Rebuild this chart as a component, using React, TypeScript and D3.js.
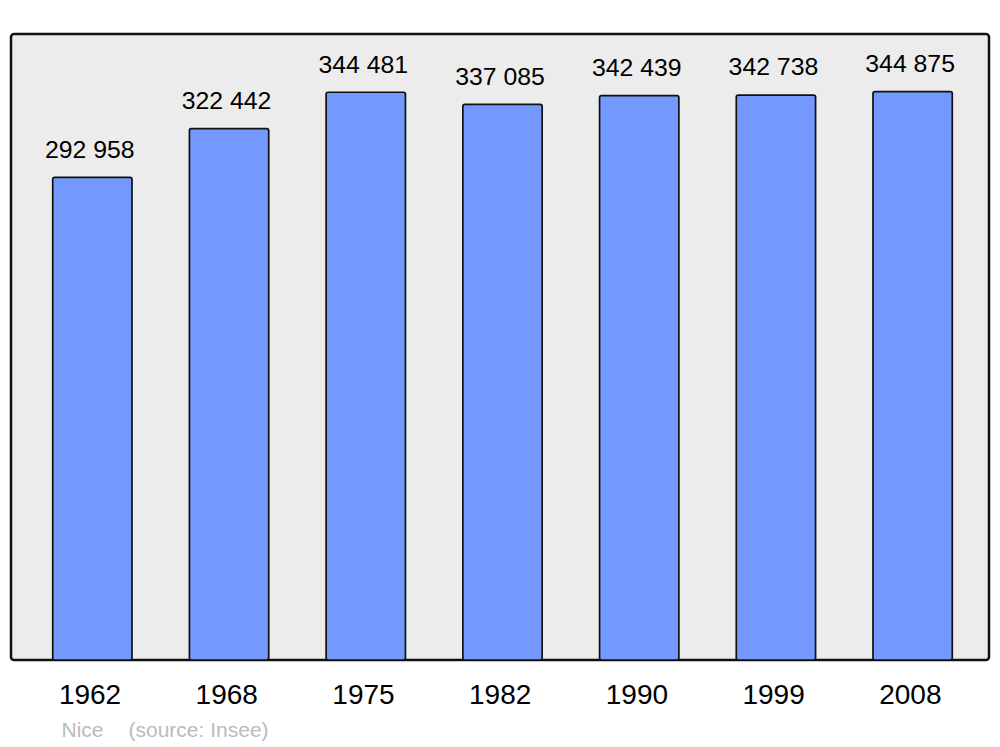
import React from "react";
import * as d3 from "d3";

const years = ["1962", "1968", "1975", "1982", "1990", "1999", "2008"];
const population = [292958, 322442, 344481, 337085, 342439, 342738, 344875];
const commune = "Nice";
const source = "(source: Insee)";

const W = 1000;
const H = 747;
const panel = { x: 11, y: 34, w: 978, h: 626 };

export default function App() {
  const x = d3
    .scaleBand<string>()
    .domain(years)
    .range([24, 981])
    .paddingInner(0.42)
    .paddingOuter(0.21);
  const y = d3
    .scaleLinear()
    .domain([0, d3.max(population)! * 1.1])
    .range([panel.y + panel.h, panel.y]);
  const fmt = (v: number) => d3.format(",")(v).replace(/,/g, " ");

  return (
    <svg
      width={W}
      height={H}
      style={{ position: "absolute", left: 0, top: 0 }}
      fontFamily="'Liberation Sans', Arial, sans-serif"
    >
      <rect x={0} y={0} width={W} height={H} fill="#ffffff" />
      <rect
        x={panel.x}
        y={panel.y}
        width={panel.w}
        height={panel.h}
        rx={3}
        fill="#ececec"
        stroke="#111"
        strokeWidth={2.5}
      />
      {years.map((yr, i) => {
        const bx = x(yr)!;
        const by = y(population[i]);
        return (
          <g key={yr}>
            <rect
              x={bx}
              y={by + 0.7}
              width={x.bandwidth()}
              height={y(0) - by - 0.7}
              rx={2}
              fill="#7399ff"
              stroke="#111"
              strokeWidth={1.7}
            />
            <text
              x={bx + x.bandwidth() / 2 - 2.5}
              y={by - 19}
              textAnchor="middle"
              fontSize={24.8}
              fill="#000"
            >
              {fmt(population[i])}
            </text>
            <text
              x={bx + x.bandwidth() / 2 - 2.3}
              y={704}
              textAnchor="middle"
              fontSize={28}
              fill="#000"
            >
              {yr}
            </text>
          </g>
        );
      })}
      <text x={61.5} y={737} fontSize={21} fill="#bbbbbb">
        {commune}
      </text>
      <text x={128.5} y={737} fontSize={21} fill="#bbbbbb">
        {source}
      </text>
    </svg>
  );
}
